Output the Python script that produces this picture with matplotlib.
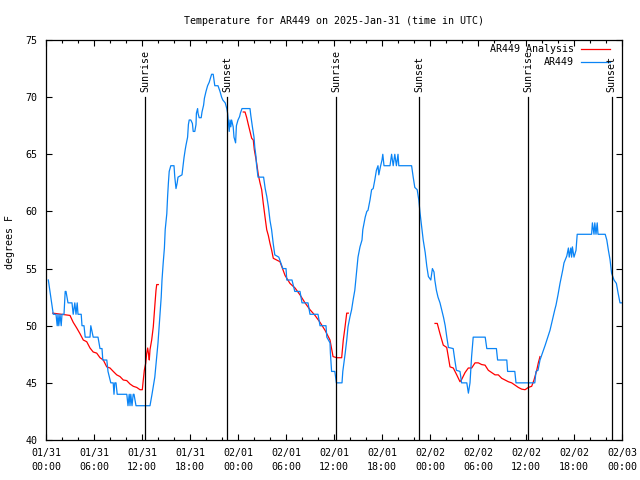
import matplotlib
matplotlib.use("Agg")
import matplotlib.pyplot as plt
import matplotlib.dates as mdates
import numpy as np
import pandas as pd

plt.rcParams['font.family'] = ['DejaVu Sans Mono']
plt.rcParams['font.size'] = 7.2

start = pd.Timestamp('2025-01-31 00:00')

# observed station temperature (hours after start, deg F)
obs_hours = [0.29, 0.5, 0.71, 0.91, 1.25, 1.4, 1.5, 1.6, 1.75, 1.9, 2.0, 2.25, 2.4, 2.5, 2.75,
             3.25, 3.4, 3.6, 3.75, 3.9, 4.0, 4.4, 4.5, 4.75, 4.9, 5.5, 5.6, 5.9, 6.5, 6.75,
             7.0, 7.1, 7.6, 7.75, 8.1, 8.4, 8.5, 8.6, 8.75, 8.9, 10.1, 10.25, 10.4, 10.5, 10.6,
             10.75, 10.9, 11.0, 11.25, 13.0, 13.25, 13.6, 14.0, 14.4, 14.5, 14.65, 14.8, 14.9,
             15.1, 15.2, 15.3, 15.4, 15.6, 16.0, 16.1, 16.25, 16.4, 16.5, 17.0, 17.1, 17.25,
             17.4, 17.5, 17.7, 17.8, 17.9, 18.1, 18.3, 18.4, 18.6, 18.75, 18.8, 18.95, 19.0,
             19.15, 19.4, 19.5, 19.7, 19.8, 20.0, 20.2, 20.4, 20.7, 20.9, 21.1, 21.5, 21.75,
             21.95, 22.1, 22.4, 22.6, 22.7, 22.9, 23.0, 23.1, 23.2, 23.4, 23.5, 23.7, 23.8,
             24.0, 24.2, 24.3, 24.5, 25.5, 25.6, 25.8, 26.0, 26.1, 26.25, 26.3, 26.5, 27.2,
             27.4, 27.6, 27.8, 28.0, 28.2, 28.4, 28.6, 29.1, 29.6, 30.0, 30.1, 30.75, 31.1,
             31.75, 32.0, 32.75, 33.0, 34.0, 34.25, 35.0, 35.1, 35.5, 35.55, 35.7, 36.1, 36.3,
             37.0, 37.1, 37.4, 37.6, 37.75, 38.0, 38.2, 38.4, 38.6, 38.8, 39.0, 39.25, 39.5,
             39.6, 39.9, 40.1, 40.25, 40.5, 40.7, 40.9, 41.1, 41.3, 41.5, 41.6, 41.8, 42.0,
             42.1, 42.25, 43.0, 43.2, 43.4, 43.6, 43.8, 44.0, 44.1, 45.7, 45.9, 46.1, 46.4,
             46.6, 46.75, 46.95, 47.15, 47.4, 47.6, 47.8, 48.1, 48.3, 48.5, 48.6, 48.8, 49.0,
             49.25, 49.5, 49.7, 49.9, 50.1, 50.3, 50.9, 51.1, 51.3, 51.75, 51.95, 52.6, 52.8,
             53.0, 53.2, 53.4, 54.9, 55.1, 56.3, 56.45, 57.6, 57.7, 58.6, 58.75, 61.1, 61.25,
             61.5, 61.75, 62.4, 63.0, 63.6, 63.75, 64.0, 64.25, 64.6, 64.75, 65.1, 65.3, 65.4,
             65.6, 65.7, 65.8, 66.0, 66.25, 66.4, 68.2, 68.3, 68.5, 68.6, 68.75, 68.9, 69.0,
             69.9, 70.1, 70.3, 70.5, 70.7, 71.0, 71.3, 71.5, 71.75, 72.0]
obs_temp = [54, 53, 52, 51, 51, 50, 51, 50, 51, 50, 51, 51, 53, 53, 52,
            52, 51, 52, 51, 52, 51, 51, 50, 50, 49, 49, 50, 49, 49, 48,
            48, 47, 47, 46, 45, 45, 44, 45, 45, 44, 44, 43, 44, 43, 44,
            43, 44, 44, 43, 43, 44, 45.5, 48.5, 52.5, 54, 55.5, 56.8, 58.4,
            59.8, 61.3, 62.5, 63.5, 64, 64, 63, 62, 62.5, 63, 63.2, 63.8, 64.7,
            65.4, 65.8, 66.5, 67.6, 68, 68, 67.7, 67, 67, 67.6, 68.6, 69, 68.6,
            68.2, 68.2, 68.7, 69.3, 69.9, 70.5, 71, 71.3, 72, 72, 71, 71, 70.5,
            70, 69.75, 69.5, 69, 68.6, 67, 68, 67.4, 68, 67.4, 66.5, 66, 67.5,
            68, 68.3, 68.6, 69, 69, 68.4, 67.4, 66.5, 65.6, 64.8, 64.2, 63, 63,
            62, 61.3, 60.4, 59.2, 58.4, 57.2, 56.2, 56, 55, 55, 54, 54, 53,
            53, 52, 52, 51, 51, 50, 50, 49, 48.5, 47.6, 46, 46, 45,
            45, 46, 47.6, 48.8, 49.9, 50.8, 51.4, 52.3, 53.1, 54.6, 56, 56.9, 57.5,
            58.4, 59.5, 60, 60.1, 61, 61.9, 62, 62.75, 63.6, 64, 63.2, 63.9, 64.5,
            65, 64, 64, 65, 64, 65, 64, 65, 64, 64, 63, 62.1, 61.9,
            61, 59.9, 58.7, 57.5, 56.4, 55.2, 54.3, 54, 55, 54.7, 54, 53.1, 52.5,
            52, 51.3, 50.7, 50, 49, 48.1, 48, 47, 46.1, 46, 45, 45, 44.1,
            45, 47.3, 49, 49, 48, 48, 47, 47, 46, 46, 45, 45, 46,
            46.1, 47, 48.3, 49.6, 51.4, 51.8, 52.7, 53.7, 54.9, 55.5, 56.1, 56.8, 56,
            56.8, 56, 56.9, 56, 56.6, 58, 58, 59, 58, 59, 58, 59, 58,
            58, 57.5, 56.6, 55.8, 54.6, 54, 53.7, 52.9, 52, 52]

# analysis temperature, NaN marks gaps between the three runs
ana_hours = [0.84, 3.0, 3.4, 3.84, 4.25, 4.66, 5.09, 5.5, 5.9, 6.34, 6.75, 7.16, 7.59, 8.0,
             8.41, 8.84, 9.25, 9.66, 10.09, 10.5, 10.91, 11.34, 11.75, 12.04, 12.16, 12.29,
             12.46, 12.59, 12.71, 12.84, 12.91, 13.0, 13.21, 13.41, 13.63, 13.75, 13.84, 14.04,
             14.1,
             24.66, 24.88, 25.09, 25.29, 25.5, 25.71, 25.91, 26.04, 26.34, 26.54, 26.75, 26.96,
             27.16, 27.38, 27.59, 27.79, 28.0, 28.21, 28.41, 29.25, 29.88, 30.5, 31.13, 31.75,
             32.38, 33.0, 33.63, 34.25, 34.88, 35.5, 35.88, 36.34, 36.96, 37.16, 37.38, 37.59,
             37.79, 37.85,
             48.63, 48.91, 49.25, 49.66, 50.09, 50.5, 50.91, 51.34, 51.75, 51.96, 52.38, 52.79,
             53.21, 53.63, 54.04, 54.46, 54.88, 55.29, 55.71, 56.13, 56.54, 56.96, 57.38, 57.79,
             58.21, 58.63, 59.04, 59.46, 59.88, 60.29, 60.71, 61.0, 61.34, 61.54, 61.75]
ana_temp = [51.1, 50.9, 50.3, 49.8, 49.3, 48.75, 48.6, 48.05, 47.7, 47.6, 47.2, 47.0, 46.4, 46.3,
            46.0, 45.7, 45.55, 45.25, 45.2, 44.9, 44.7, 44.6, 44.4, 44.4, 45.25, 46.1,
            46.7, 47.6, 48.05, 47.4, 47.0, 47.9, 48.75, 49.9, 52.0, 53.1, 53.6, 53.6,
            np.nan,
            68.7, 68.7, 68.2, 67.6, 67.0, 66.4, 66.25, 65.4, 64.2, 63.2, 62.5, 61.9,
            60.7, 59.5, 58.4, 57.9, 57.2, 56.6, 55.9, 55.6, 54.4, 53.7, 53.3, 52.7,
            52.0, 51.4, 50.9, 50.3, 49.6, 48.75, 47.3, 47.2, 47.2, 48.75, 49.9, 51.1,
            51.1, np.nan,
            50.2, 50.2, 49.3, 48.3, 48.1, 46.4, 46.3, 45.7, 45.1, 45.3, 45.9, 46.3,
            46.3, 46.75, 46.75, 46.6, 46.55, 46.1, 45.9, 45.7, 45.7, 45.4, 45.25, 45.1,
            45.0, 44.8, 44.6, 44.45, 44.4, 44.6, 44.7, 45.25, 46.1, 46.75, 47.3]

sun_hours = [12.42, 22.67, 36.3, 46.67, 60.29, 70.7]
sun_labels = ['Sunrise', 'Sunset', 'Sunrise', 'Sunset', 'Sunrise', 'Sunset']

obs_t = start + pd.to_timedelta(obs_hours, unit='h')
ana_t = start + pd.to_timedelta(ana_hours, unit='h')
sun_t = start + pd.to_timedelta(sun_hours, unit='h')

fig = plt.figure(figsize=(6.4, 4.8), dpi=100)
ax = fig.add_axes([46/640, 40/480, 576/640, 400/480])

ax.plot(ana_t, ana_temp, color='#ff0000', lw=0.9)
ax.plot(obs_t, obs_temp, color='#0a84f5', lw=0.9)

for t, lab in zip(sun_t, sun_labels):
    ax.plot([t, t], [40, 70], color='black', lw=0.9)
    ax.text(t, 70.45, lab, rotation=90, ha='center', va='bottom')

ax.set_xlim(start, start + pd.Timedelta(hours=72))
ax.set_ylim(40, 75)
ax.set_yticks(np.arange(40, 76, 5))
ax.xaxis.set_major_locator(mdates.HourLocator(byhour=[0, 6, 12, 18]))
ax.xaxis.set_minor_locator(mdates.HourLocator(interval=2))
ax.xaxis.set_major_formatter(mdates.DateFormatter('%m/%d\n%H:%M'))

ax.tick_params(which='both', direction='in', top=True, right=True, color='black')
ax.tick_params(which='major', length=4, width=0.8)
ax.tick_params(which='minor', length=2.5, width=0.8)
ax.tick_params(axis='x', pad=6)
ax.tick_params(axis='y', pad=6)
for s in ax.spines.values():
    s.set_linewidth(0.9)

# gnuplot style key: right-aligned text, sample line after it
ax.text(0.917, 0.977, 'AR449 Analysis', ha='right', va='center', transform=ax.transAxes)
ax.plot([0.929, 0.979], [0.977, 0.977], color='#ff0000', lw=0.9, transform=ax.transAxes)
ax.text(0.917, 0.944, 'AR449', ha='right', va='center', transform=ax.transAxes)
ax.plot([0.929, 0.979], [0.944, 0.944], color='#0a84f5', lw=0.9, transform=ax.transAxes)

fig.text(334/640, 1 - 21/480, 'Temperature for AR449 on 2025-Jan-31 (time in UTC)',
         ha='center', va='center')
fig.text(10/640, 1 - 242/480, 'degrees F', rotation=90, ha='center', va='center')

fig.canvas.draw()
plt.setp(ax.get_xticklabels(), linespacing=1.4)

fig.savefig('out.png', dpi=100)
